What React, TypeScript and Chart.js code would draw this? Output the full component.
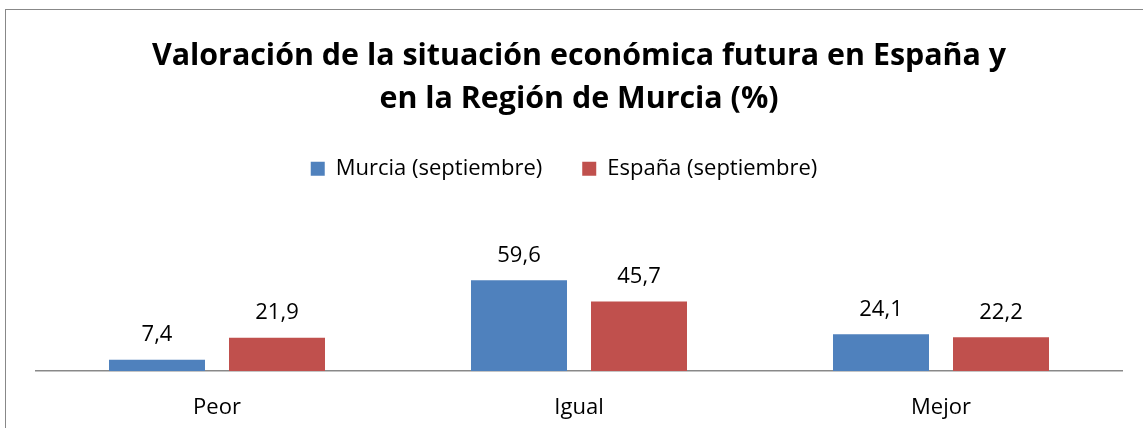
import React, { useEffect, useRef } from "react";
import { Chart, registerables } from "chart.js";

Chart.register(...registerables);

const categories = ["Peor", "Igual", "Mejor"];
const murciaValues = [7.4, 59.6, 24.1];
const espanaValues = [21.9, 45.7, 22.2];
const seriesNames = ["Murcia (septiembre)", "España (septiembre)"];
const titleLines = [
  "Valoración de la situación económica futura en España y",
  "en la Región de Murcia (%)",
];

const FONT = "'Open Sans', Lato, sans-serif";

const dataLabelPlugin = {
  id: "dataLabels",
  afterDatasetsDraw(chart: any) {
    const ctx = chart.ctx;
    ctx.save();
    ctx.font = `22px ${FONT}`;
    ctx.fillStyle = "#000";
    ctx.textAlign = "center";
    ctx.textBaseline = "middle";
    chart.data.datasets.forEach((ds: any, di: number) => {
      const meta = chart.getDatasetMeta(di);
      meta.data.forEach((bar: any, i: number) => {
        const v = ds.data[i] as number;
        ctx.fillText(v.toFixed(1).replace(".", ","), bar.x, bar.y - 24.5);
      });
    });
    ctx.restore();
  },
};

const legendShiftPlugin = {
  id: "legendShift",
  afterLayout(chart: any) {
    const lg = chart.legend;
    if (lg) {
      lg.left -= 15;
      lg.right -= 15;
    }
  },
};

export default function App() {
  const ref = useRef<HTMLCanvasElement | null>(null);

  useEffect(() => {
    if (!ref.current) return;
    const chart = new Chart(ref.current, {
      type: "bar",
      data: {
        labels: categories,
        datasets: [
          {
            label: seriesNames[0],
            data: murciaValues,
            backgroundColor: "#4F81BD",
            barPercentage: 0.8,
            categoryPercentage: 0.663,
          },
          {
            label: seriesNames[1],
            data: espanaValues,
            backgroundColor: "#C0504D",
            barPercentage: 0.8,
            categoryPercentage: 0.663,
          },
        ],
      },
      options: {
        responsive: false,
        animation: false,
        layout: { padding: { left: 36, right: 21, top: 0, bottom: 0 } },
        plugins: {
          title: {
            display: true,
            text: titleLines,
            color: "#000",
            font: { family: FONT, size: 30.4, weight: "bold", lineHeight: 1.41 },
            padding: { top: 35, bottom: -3 },
          },
          legend: {
            display: true,
            position: "top",
            labels: {
              color: "#000",
              font: { family: FONT, size: 22 },
              boxWidth: 14,
              boxHeight: 14,
              padding: 40,
            },
          },
          tooltip: { enabled: false },
        },
        scales: {
          x: {
            grid: { display: false, drawTicks: false },
            border: { display: true, color: "#898989", width: 1.5 },
            ticks: {
              color: "#000",
              font: { family: FONT, size: 22 },
              padding: 24,
            },
            afterFit: (scale: any) => {
              scale.height = 57;
            },
          },
          y: {
            display: false,
            min: 0,
            max: 119,
          },
        },
      },
      plugins: [dataLabelPlugin, legendShiftPlugin],
    });
    return () => chart.destroy();
  }, []);

  return (
    <>
      <div
        style={{
          position: "fixed",
          left: 0,
          top: 0,
          width: 1143,
          height: 428,
          background: "#fff",
        }}
      >
        <canvas ref={ref} width={1143} height={428} style={{ width: 1143, height: 428, display: "block" }} />
      </div>
      <div
        style={{
          position: "fixed",
          left: 5,
          top: 9,
          width: 1400,
          height: 700,
          border: "1.5px solid #888",
          pointerEvents: "none",
        }}
      />
    </>
  );
}
